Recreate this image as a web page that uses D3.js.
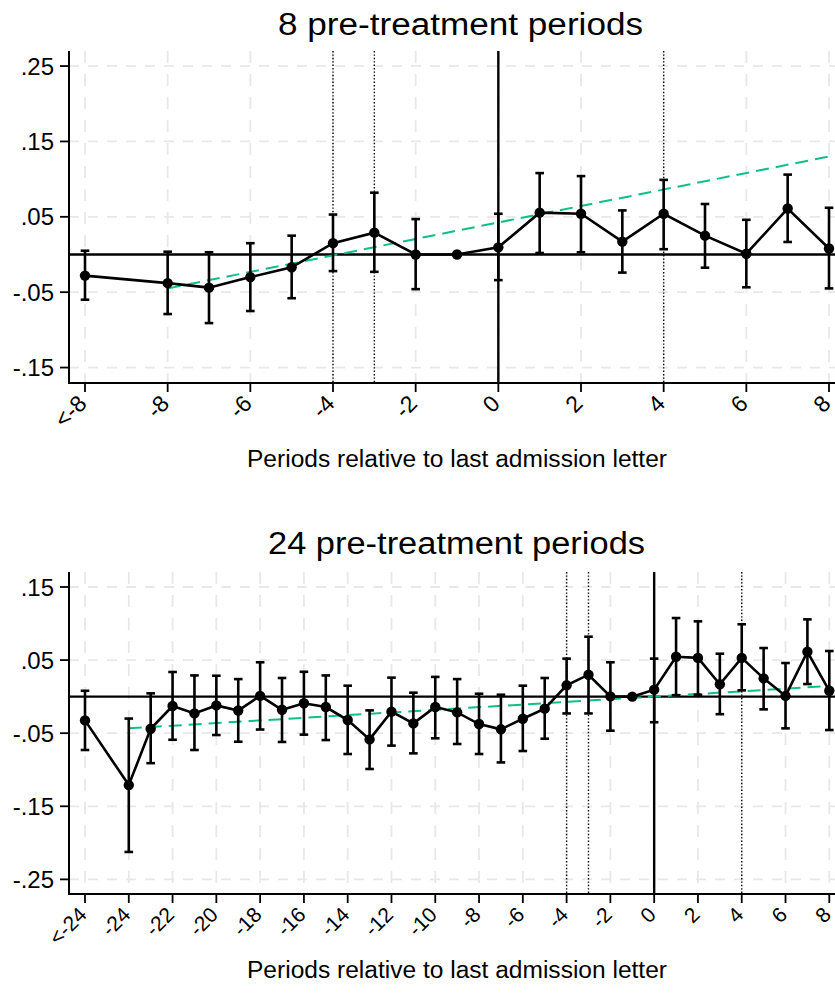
<!DOCTYPE html>
<html>
<head>
<meta charset="utf-8">
<script src="https://cdn.jsdelivr.net/npm/d3@7"></script>
<style>
  html, body { margin: 0; padding: 0; background: #ffffff; }
  svg { display: block; }
  text { font-family: "Liberation Sans", Arial, Helvetica, sans-serif; fill: #000; }
</style>
</head>
<body>
<svg id="chart" width="835" height="994"></svg>
<script>
// ---------- DATA: panel 1 (8 pre-treatment periods) ----------
const topTitle = "8 pre-treatment periods";
const topPeriods = [-10, -8, -7, -6, -5, -4, -3, -2, -1, 0, 1, 2, 3, 4, 5, 6, 7, 8];
const topCoef = [-0.028, -0.038, -0.044, -0.030, -0.017, 0.015, 0.029, 0.000, 0, 0.0095, 0.0555, 0.054, 0.017, 0.054, 0.025, 0.001, 0.061, 0.008];
const topLo = [-0.060, -0.079, -0.091, -0.075, -0.058, -0.022, -0.023, -0.046, null, -0.034, 0.002, 0.003, -0.024, 0.007, -0.0175, -0.0435, 0.0166, -0.045];
const topHi = [0.005, 0.0037, 0.003, 0.015, 0.025, 0.053, 0.082, 0.047, null, 0.054, 0.108, 0.104, 0.0585, 0.099, 0.067, 0.046, 0.106, 0.062];
const topTrendX = [-8, 8];
const topTrendY = [-0.045, 0.130];
const topXTicks = [-10, -8, -6, -4, -2, 0, 2, 4, 6, 8];
const topXTickLabels = ["<-8", "-8", "-6", "-4", "-2", "0", "2", "4", "6", "8"];
const topYTicks = [-0.15, -0.05, 0.05, 0.15, 0.25];
const topYTickLabels = ["-.15", "-.05", ".05", ".15", ".25"];
const topDotted = [-4, -3, 4];

// ---------- DATA: panel 2 (24 pre-treatment periods) ----------
const botTitle = "24 pre-treatment periods";
const botPeriods = [-26, -24, -23, -22, -21, -20, -19, -18, -17, -16, -15, -14, -13, -12, -11, -10, -9, -8, -7, -6, -5, -4, -3, -2, -1, 0, 1, 2, 3, 4, 5, 6, 7, 8];
const botCoef = [-0.0325, -0.121, -0.044, -0.0128, -0.023, -0.012, -0.019, 0.001, -0.018, -0.009, -0.0142, -0.032, -0.0585, -0.0206, -0.0366, -0.0142, -0.0215, -0.0375, -0.0447, -0.0302, -0.0165, 0.0155, 0.030, 0.0004, 0, 0.0095, 0.0546, 0.053, 0.017, 0.053, 0.025, 0.001, 0.0614, 0.008];
const botLo = [-0.073, -0.2125, -0.091, -0.059, -0.073, -0.0525, -0.0617, -0.045, -0.062, -0.052, -0.0594, -0.0785, -0.099, -0.067, -0.0776, -0.057, -0.0648, -0.0785, -0.090, -0.0744, -0.0576, -0.023, -0.023, -0.0466, null, -0.035, 0.002, 0.0026, -0.024, 0.0086, -0.0174, -0.0434, 0.0172, -0.0457];
const botHi = [0.008, -0.030, 0.0045, 0.0337, 0.029, 0.0286, 0.024, 0.047, 0.0255, 0.034, 0.029, 0.015, -0.0188, 0.026, 0.0054, 0.027, 0.024, 0.004, 0.0026, 0.015, 0.0255, 0.052, 0.082, 0.047, null, 0.052, 0.1075, 0.103, 0.0587, 0.099, 0.0665, 0.046, 0.1057, 0.0624];
const botTrendX = [-24, 8];
const botTrendY = [-0.0434, 0.0145];
const botXTicks = [-26, -24, -22, -20, -18, -16, -14, -12, -10, -8, -6, -4, -2, 0, 2, 4, 6, 8];
const botXTickLabels = ["<-24", "-24", "-22", "-20", "-18", "-16", "-14", "-12", "-10", "-8", "-6", "-4", "-2", "0", "2", "4", "6", "8"];
const botYTicks = [-0.25, -0.15, -0.05, 0.05, 0.15];
const botYTickLabels = ["-.25", "-.15", "-.05", ".05", ".15"];
const botDotted = [-4, -3, 4];

const xAxisTitle = "Periods relative to last admission letter";

// ---------- DRAWING ----------
const svg = d3.select("#chart");
const GREEN = "#0fbf88";
const GRID = "#e8e8e8";

function drawPanel(p) {
  const g = svg.append("g");
  const x = d3.scaleLinear().domain([p.xTicks[0], p.xTicks[p.xTicks.length - 1]]).range([p.x0, p.x1]);
  const y = d3.scaleLinear().domain(p.yDomain).range([p.yBottom, p.yTop]);

  // grid
  g.selectAll(".hgrid").data(p.yTicks).enter().append("line")
    .attr("x1", p.left).attr("x2", p.right)
    .attr("y1", d => y(d)).attr("y2", d => y(d))
    .attr("stroke", GRID).attr("stroke-width", 1.8).attr("stroke-dasharray", "10,9");
  g.selectAll(".vgrid").data(p.xTicks).enter().append("line")
    .attr("x1", d => x(d)).attr("x2", d => x(d))
    .attr("y1", p.yTop).attr("y2", p.yBottom)
    .attr("stroke", GRID).attr("stroke-width", 1.8).attr("stroke-dasharray", "12,11");

  // dotted reference lines
  g.selectAll(".dot").data(p.dotted).enter().append("line")
    .attr("x1", d => x(d)).attr("x2", d => x(d))
    .attr("y1", p.yTop).attr("y2", p.yBottom)
    .attr("stroke", "#000").attr("stroke-width", 1.4).attr("stroke-dasharray", "1.4,2");

  // zero lines
  g.append("line").attr("x1", p.left).attr("x2", p.right)
    .attr("y1", y(0)).attr("y2", y(0)).attr("stroke", "#000").attr("stroke-width", 2.4);
  g.append("line").attr("x1", x(0)).attr("x2", x(0))
    .attr("y1", p.yTop).attr("y2", p.yBottom).attr("stroke", "#000").attr("stroke-width", 2.4);

  // trend line
  const trend = p.trendX.map((v, i) => [v, p.trendY[i]]);
  g.append("path").datum(trend)
    .attr("d", d3.line().x(d => x(d[0])).y(d => y(d[1])))
    .attr("fill", "none").attr("stroke", GREEN).attr("stroke-width", 2)
    .attr("stroke-dasharray", "13,7");

  const pts = p.periods.map((v, i) => ({ t: v, c: p.coef[i], lo: p.lo[i], hi: p.hi[i] }));
  const ci = pts.filter(d => d.lo !== null);

  // error bars
  g.selectAll(".eb").data(ci).enter().append("line")
    .attr("x1", d => x(d.t)).attr("x2", d => x(d.t))
    .attr("y1", d => y(d.lo)).attr("y2", d => y(d.hi))
    .attr("stroke", "#000").attr("stroke-width", 2.6);
  ["lo", "hi"].forEach(k => {
    g.selectAll(".cap" + k).data(ci).enter().append("line")
      .attr("x1", d => x(d.t) - 4.3).attr("x2", d => x(d.t) + 4.3)
      .attr("y1", d => y(d[k])).attr("y2", d => y(d[k]))
      .attr("stroke", "#000").attr("stroke-width", 2.6);
  });

  // connecting line
  g.append("path").datum(pts)
    .attr("d", d3.line().x(d => x(d.t)).y(d => y(d.c)))
    .attr("fill", "none").attr("stroke", "#000").attr("stroke-width", 2.6);

  // points
  g.selectAll(".pt").data(pts).enter().append("circle")
    .attr("cx", d => x(d.t)).attr("cy", d => y(d.c)).attr("r", 5.2).attr("fill", "#000");

  // axes lines
  g.append("line").attr("x1", p.left).attr("x2", p.left)
    .attr("y1", p.yTop).attr("y2", p.yBottom + 1).attr("stroke", "#000").attr("stroke-width", 2);
  g.append("line").attr("x1", p.left - 1).attr("x2", p.right)
    .attr("y1", p.yBottom).attr("y2", p.yBottom).attr("stroke", "#000").attr("stroke-width", 2);

  // y ticks
  g.selectAll(".yt").data(p.yTicks).enter().append("line")
    .attr("x1", p.left - 9).attr("x2", p.left)
    .attr("y1", d => y(d)).attr("y2", d => y(d))
    .attr("stroke", "#000").attr("stroke-width", 1.8);
  g.selectAll(".ytl").data(p.yTicks).enter().append("text")
    .attr("x", p.left - 15).attr("y", d => y(d)).attr("dy", "0.36em")
    .attr("text-anchor", "end").attr("font-size", 24)
    .text((d, i) => p.yTickLabels[i]);

  // x ticks
  g.selectAll(".xt").data(p.xTicks).enter().append("line")
    .attr("x1", d => x(d)).attr("x2", d => x(d))
    .attr("y1", p.yBottom).attr("y2", p.yBottom + 9)
    .attr("stroke", "#000").attr("stroke-width", 1.8);
  g.selectAll(".xtl").data(p.xTicks).enter().append("text")
    .attr("transform", d => `translate(${x(d) + 3},${p.yBottom + 22}) rotate(-45)`)
    .attr("text-anchor", "end").attr("font-size", p.xFont)
    .text((d, i) => p.xTickLabels[i]);

  // title
  g.append("text").attr("x", p.titleX).attr("y", p.titleY)
    .attr("font-size", 31).attr("textLength", p.titleW).attr("lengthAdjust", "spacingAndGlyphs")
    .text(p.title);
  // x axis title
  g.append("text").attr("x", p.xlabX).attr("y", p.xlabY)
    .attr("font-size", 23).attr("textLength", p.xlabW).attr("lengthAdjust", "spacingAndGlyphs")
    .text(xAxisTitle);
}

drawPanel({
  title: topTitle, titleX: 278, titleY: 35, titleW: 365,
  xlabX: 247, xlabY: 467, xlabW: 420, xFont: 23,
  periods: topPeriods, coef: topCoef, lo: topLo, hi: topHi,
  trendX: topTrendX, trendY: topTrendY,
  xTicks: topXTicks, xTickLabels: topXTickLabels,
  yTicks: topYTicks, yTickLabels: topYTickLabels,
  dotted: topDotted,
  left: 69, right: 835, x0: 85, x1: 829,
  yTop: 51, yBottom: 383, yDomain: [-0.1705, 0.27]
});

drawPanel({
  title: botTitle, titleX: 268, titleY: 554, titleW: 377,
  xlabX: 247, xlabY: 978, xlabW: 420, xFont: 21,
  periods: botPeriods, coef: botCoef, lo: botLo, hi: botHi,
  trendX: botTrendX, trendY: botTrendY,
  xTicks: botXTicks, xTickLabels: botXTickLabels,
  yTicks: botYTicks, yTickLabels: botYTickLabels,
  dotted: botDotted,
  left: 69, right: 835, x0: 85, x1: 829.3,
  yTop: 572, yBottom: 894, yDomain: [-0.27, 0.1705]
});
</script>
</body>
</html>
